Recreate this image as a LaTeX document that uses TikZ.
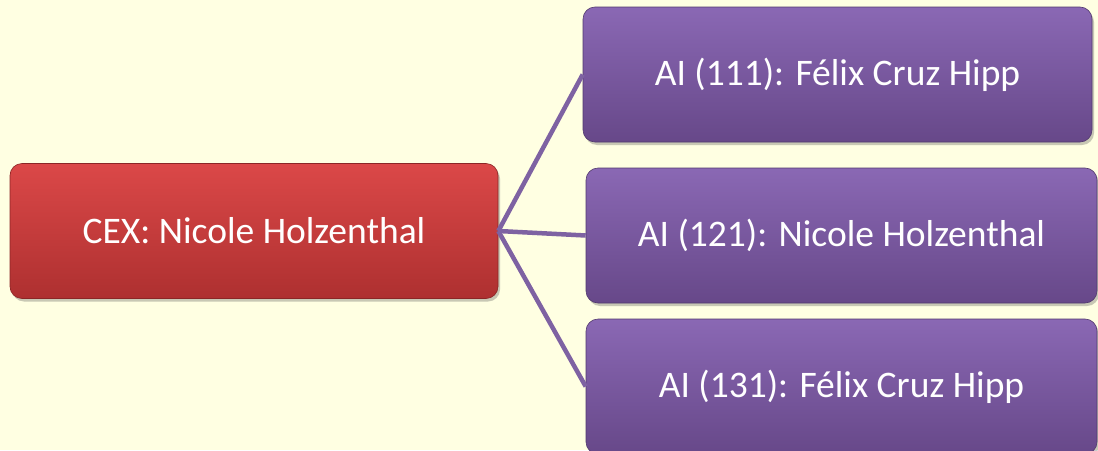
\documentclass[tikz,border=0pt]{standalone}
\usepackage{fontspec}
\setmainfont{Carlito}
\usetikzlibrary{shadows}
\definecolor{bg}{HTML}{FFFFE2}
\definecolor{redtop}{HTML}{DB4848}
\definecolor{redbot}{HTML}{AE3030}
\definecolor{purtop}{HTML}{8A68B4}
\definecolor{purbot}{HTML}{674889}
\definecolor{linkcol}{HTML}{7E62A2}
\tikzset{
  box/.style={rectangle, rounded corners=12pt, inner sep=0pt, text=white,
    font=\fontsize{37.5}{45}\selectfont,
    drop shadow={shadow xshift=2pt, shadow yshift=-3pt, opacity=0.3, fill=black!70}},
  redbox/.style={box, top color=redtop, bottom color=redbot, draw=redbot!80!black, line width=0.6pt},
  purbox/.style={box, top color=purtop, bottom color=purbot, draw=purbot!80!black, line width=0.6pt},
  link/.style={draw=linkcol, line width=4.5pt}
}
\begin{document}
\begin{tikzpicture}[x=1pt,y=-1pt]
\fill[bg] (0,0) rectangle (1098,450);
\useasboundingbox (0,0) rectangle (1098,450);
\node[redbox, minimum width=488pt, minimum height=135pt] (cex) at (254,231) {CEX: Nicole Holzenthal};
\node[purbox, minimum width=509pt, minimum height=135pt] (ai1) at (837.5,74.5) {AI (111): Félix Cruz Hipp};
\node[purbox, minimum width=511pt, minimum height=135pt] (ai2) at (841.5,235.5) {AI (121): Nicole Holzenthal};
\node[purbox, minimum width=511pt, minimum height=135pt] (ai3) at (841.5,386.5) {AI (131): Félix Cruz Hipp};
\draw[link] (cex.east) -- (ai1.west);
\draw[link] (cex.east) -- (ai2.west);
\draw[link] (cex.east) -- (ai3.west);
\end{tikzpicture}
\end{document}
